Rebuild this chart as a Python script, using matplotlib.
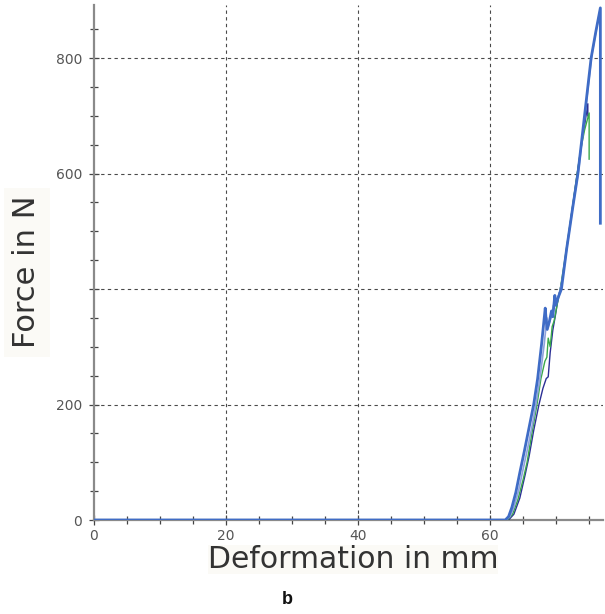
import matplotlib
matplotlib.use("Agg")
import matplotlib.pyplot as plt
from matplotlib.ticker import MultipleLocator, FixedLocator, FixedFormatter

# --- data ---
blue_x = [0, 62.3, 62.8, 63.3, 63.9, 64.5, 65.2, 65.9, 66.6, 67.2, 67.8, 68.35, 68.5, 68.65,
          69.0, 69.3, 69.5, 69.8, 69.95, 70.3, 70.8, 71.6, 72.5, 73.3, 74.3, 75.3, 76.0, 76.7, 76.7]
blue_y = [0, 0, 6, 22, 48, 82, 120, 160, 200, 245, 305, 367, 345, 330,
          345, 362, 352, 389, 372, 385, 400, 470, 540, 600, 700, 800, 845, 887, 514]

blue2_x = [0, 62.4, 63.0, 63.6, 64.3, 65.0, 65.7, 66.4, 67.0, 67.6, 68.2, 68.6, 68.8,
           69.2, 69.6, 70.0, 70.5, 71.0, 71.8, 72.6, 73.4, 74.4, 75.4, 76.1, 76.6]
blue2_y = [0, 0, 6, 22, 50, 88, 125, 165, 205, 250, 305, 350, 335,
           350, 372, 380, 392, 420, 485, 548, 605, 705, 805, 850, 880]

green_x = [0, 62.6, 63.4, 64.2, 65.0, 65.6, 66.3, 67.1, 67.7, 68.3, 68.6, 68.8,
           69.1, 69.4, 69.7, 70.1, 70.6, 71.3, 72.2, 73.0, 73.7, 74.3, 75.0, 75.0]
green_y = [0, 0, 10, 35, 70, 100, 148, 200, 245, 275, 282, 315,
           300, 335, 345, 370, 398, 450, 520, 585, 640, 675, 705, 625]

navy_x = [62.8, 63.6, 64.5, 65.3, 65.9, 66.6, 67.4, 68.0, 68.5, 68.8, 69.1, 69.5,
          69.9, 70.3, 70.9, 71.6, 72.4, 73.2, 73.9, 74.4, 74.8, 74.8]
navy_y = [0, 10, 38, 78, 110, 155, 200, 228, 245, 248, 290, 329,
          355, 384, 415, 470, 535, 600, 655, 690, 721, 700]

y_ticks = [0, 200, 400, 600, 800]
y_tick_labels = ["0", "200", "", "600", "800"]
x_ticks = [0, 20, 40, 60]
x_tick_labels = ["0", "20", "40", "60"]

# --- figure ---
fig = plt.figure(figsize=(6.05, 6.14), dpi=100)
ax = fig.add_axes([94 / 605, 94 / 614, (603 - 94) / 605, (520 - 5) / 614])

ax.plot(navy_x, navy_y, color="#2b2f95", lw=1.0, zorder=3)
ax.plot(green_x, green_y, color="#3aa84a", lw=1.0, zorder=3)
ax.plot(blue2_x, blue2_y, color="#8ea2dc", lw=1.2, zorder=4)
ax.plot(blue_x, blue_y, color="#3f6cc6", lw=2.0, zorder=5)

ax.set_xlim(0, 77.1)
ax.set_ylim(0, 892)

ax.xaxis.set_major_locator(FixedLocator(x_ticks))
ax.xaxis.set_major_formatter(FixedFormatter(x_tick_labels))
ax.xaxis.set_minor_locator(MultipleLocator(5))
ax.yaxis.set_major_locator(FixedLocator(y_ticks))
ax.yaxis.set_major_formatter(FixedFormatter(y_tick_labels))
ax.yaxis.set_minor_locator(MultipleLocator(50))

tick_font = ["Liberation Sans Narrow", "DejaVu Sans"]
for side in ("top", "right"):
    ax.spines[side].set_visible(False)
for side in ("left", "bottom"):
    ax.spines[side].set_color("#8a8a8a")
    ax.spines[side].set_linewidth(1.6)

ax.tick_params(which="both", direction="inout", color="#444444", width=0.9)
ax.tick_params(which="major", length=7)
ax.tick_params(which="minor", length=6)
ax.tick_params(axis="y", which="major", pad=5, labelsize=10, labelcolor="#555555")
ax.tick_params(axis="x", which="major", pad=3, labelsize=10, labelcolor="#555555")
for lab in ax.get_xticklabels() + ax.get_yticklabels():
    lab.set_family(tick_font)

for xv in x_ticks[1:]:
    ax.axvline(xv, color="#4a4a4a", lw=0.8, ls=(0, (3, 3)), zorder=1)
for yv in y_ticks[1:]:
    ax.axhline(yv, color="#4a4a4a", lw=0.8, ls=(0, (3, 3)), zorder=1)

fig.text(27 / 605, 1 - 272 / 614, "Force in N", rotation=90, ha="center", va="center",
         fontsize=22, color="#333333", family="DejaVu Sans",
         bbox=dict(facecolor="#fbfaf6", edgecolor="none", pad=6))
fig.text(353 / 605, 1 - 559 / 614, "Deformation in mm", ha="center", va="center",
         fontsize=21.5, color="#333333", family="DejaVu Sans",
         bbox=dict(facecolor="#fbfaf6", edgecolor="none", pad=0))
fig.text(287 / 605, 1 - 600 / 614, "b", ha="center", va="center",
         fontsize=13, fontweight="bold", color="#111111", family="Liberation Sans")

fig.savefig("out.png", dpi=100)
